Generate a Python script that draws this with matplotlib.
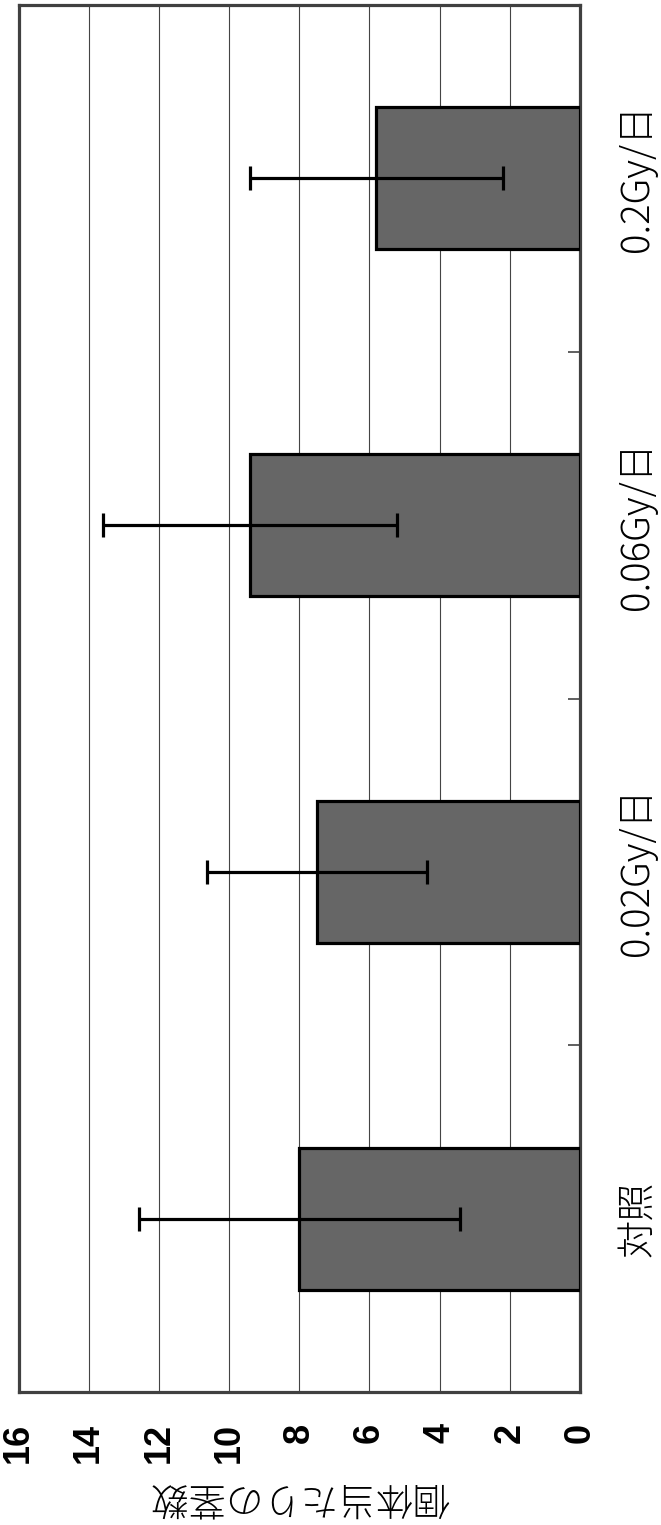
import matplotlib
matplotlib.use("Agg")
import matplotlib.pyplot as plt
import numpy as np

# Data: stem count per individual under each dose rate
categories = ["対照", "0.02Gy/日", "0.06Gy/日", "0.2Gy/日"]
means = [8.0, 7.5, 9.4, 5.8]
errors = [4.58, 3.13, 4.18, 3.61]
value_ticks = [0, 2, 4, 6, 8, 10, 12, 14, 16]
value_label = "個体当たりの茎数"

plt.rcParams["font.family"] = ["Noto Sans CJK JP", "DejaVu Sans"]

W, H, DPI = 661, 1525, 100
fig = plt.figure(figsize=(W / DPI, H / DPI), dpi=DPI)
left, right, top, bottom = 18.5, 580, 5, 1392
ax = fig.add_axes([left / W, 1 - bottom / H, (right - left) / W, (bottom - top) / H])

pos = np.arange(len(categories))
ax.barh(pos, means, height=0.41, color="#666666", edgecolor="black",
        linewidth=2.3, zorder=3)
ax.errorbar(means, pos, xerr=errors, fmt="none", ecolor="black",
            elinewidth=2.3, capsize=8.3, capthick=2.3, zorder=4)

# value axis runs right-to-left
ax.set_xlim(16, 0)
ax.set_ylim(-0.5, len(categories) - 0.5)

ax.set_xticks(value_ticks)
ax.set_xticklabels([str(v) for v in value_ticks], rotation=90,
                   fontsize=26, fontweight="bold", family=["Liberation Sans"])
ax.tick_params(axis="x", length=0, pad=22)
ax.xaxis.grid(True, color="#444444", linewidth=0.8, zorder=0)
ax.set_axisbelow(True)

# category axis on the right: ticks between groups, labels at group centres
ax.yaxis.tick_right()
ax.set_yticks(pos[:-1] + 0.5)
ax.set_yticklabels([])
ax.tick_params(axis="y", which="major", direction="in", length=9,
               width=1.2, color="#444444")
ax.set_yticks(pos, minor=True)
ax.set_yticklabels(categories, minor=True, rotation=90, fontsize=27.5,
                   va="center", ha="left", fontweight="light")
ax.tick_params(axis="y", which="minor", length=0, pad=27)

ax.set_xlabel(value_label, rotation=180, fontsize=27, labelpad=10,
              fontweight="light")

for s in ax.spines.values():
    s.set_linewidth(2.3)
    s.set_color("#404040")

fig.savefig("out.png", dpi=DPI, facecolor="white")
